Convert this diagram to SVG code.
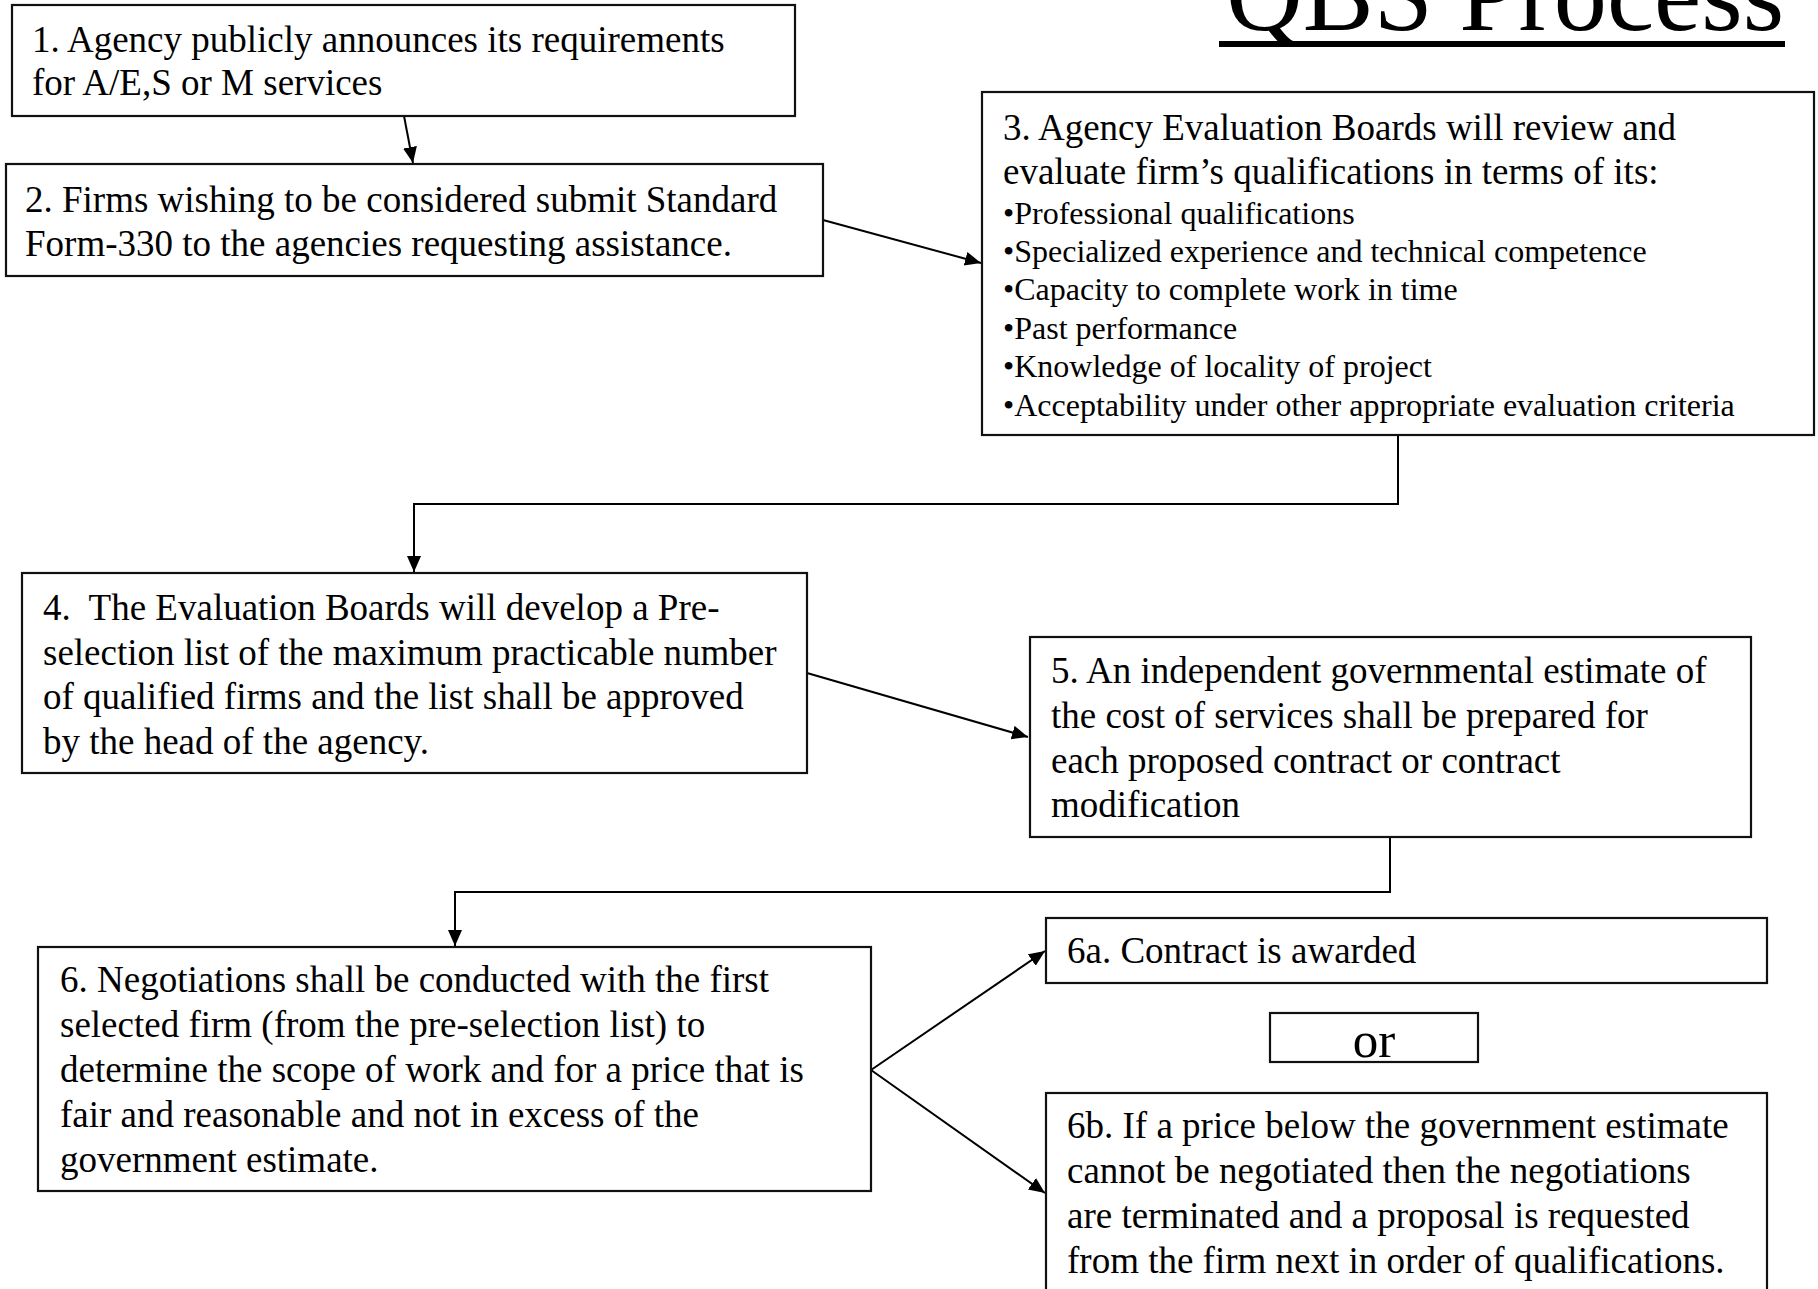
<svg xmlns="http://www.w3.org/2000/svg" width="1818" height="1289" viewBox="0 0 1818 1289">
<defs>
<marker id="ah" markerUnits="userSpaceOnUse" markerWidth="18" markerHeight="16" refX="16" refY="7" orient="auto">
<path d="M0,0 L16,7 L0,14 z" fill="#000"/>
</marker>
<style>
.box{fill:#fff;stroke:#111;stroke-width:2.2}
.t{font-family:"Liberation Serif","Times New Roman",serif;font-size:37px;fill:#000}
.b{font-family:"Liberation Serif","Times New Roman",serif;font-size:32px;fill:#000}
.c{fill:none;stroke:#000;stroke-width:2}
</style>
</defs>
<rect width="1818" height="1289" fill="#fff"/>
<g id="title">
<text x="1226" y="30" style="font-family:'Liberation Serif','Times New Roman',serif;font-size:106px" textLength="558" lengthAdjust="spacingAndGlyphs">QBS Process</text>
<rect x="1219" y="41" width="566" height="6" fill="#000"/>
</g>
<g id="connectors">
<line class="c" x1="404" y1="116" x2="413" y2="163" marker-end="url(#ah)"/>
<line class="c" x1="823" y1="220" x2="981" y2="263" marker-end="url(#ah)"/>
<polyline class="c" points="1398,435 1398,504 414,504 414,572" marker-end="url(#ah)"/>
<line class="c" x1="807" y1="673" x2="1028" y2="737" marker-end="url(#ah)"/>
<polyline class="c" points="1390,837 1390,892 455,892 455,946" marker-end="url(#ah)"/>
<line class="c" x1="871" y1="1070" x2="1045" y2="951" marker-end="url(#ah)"/>
<line class="c" x1="871" y1="1070" x2="1045" y2="1193" marker-end="url(#ah)"/>
</g>
<g id="node1">
<rect class="box" x="12" y="5" width="783" height="111"/>
<text class="t" x="32" y="52">1. Agency publicly announces its requirements</text>
<text class="t" x="32" y="95">for A/E,S or M services</text>
</g>
<g id="node2">
<rect class="box" x="6" y="164" width="817" height="112"/>
<text class="t" x="25" y="212">2. Firms wishing to be considered submit Standard</text>
<text class="t" x="25" y="256">Form-330 to the agencies requesting assistance.</text>
</g>
<g id="node3">
<rect class="box" x="982" y="92" width="832" height="343"/>
<text class="t" x="1003" y="140">3. Agency Evaluation Boards will review and</text>
<text class="t" x="1003" y="184">evaluate firm’s qualifications in terms of its:</text>
<text class="b" x="1003" y="224">•Professional qualifications</text>
<text class="b" x="1003" y="262">•Specialized experience and technical competence</text>
<text class="b" x="1003" y="300">•Capacity to complete work in time</text>
<text class="b" x="1003" y="339">•Past performance</text>
<text class="b" x="1003" y="377">•Knowledge of locality of project</text>
<text class="b" x="1003" y="416">•Acceptability under other appropriate evaluation criteria</text>
</g>
<g id="node4">
<rect class="box" x="22" y="573" width="785" height="200"/>
<text class="t" x="43" y="620">4.&#160; The Evaluation Boards will develop a Pre-</text>
<text class="t" x="43" y="665">selection list of the maximum practicable number</text>
<text class="t" x="43" y="709">of qualified firms and the list shall be approved</text>
<text class="t" x="43" y="754">by the head of the agency.</text>
</g>
<g id="node5">
<rect class="box" x="1030" y="637" width="721" height="200"/>
<text class="t" x="1051" y="683">5. An independent governmental estimate of</text>
<text class="t" x="1051" y="728">the cost of services shall be prepared for</text>
<text class="t" x="1051" y="773">each proposed contract or contract</text>
<text class="t" x="1051" y="817">modification</text>
</g>
<g id="node6">
<rect class="box" x="38" y="947" width="833" height="244"/>
<text class="t" x="60" y="992">6. Negotiations shall be conducted with the first</text>
<text class="t" x="60" y="1037">selected firm (from the pre-selection list) to</text>
<text class="t" x="60" y="1082">determine the scope of work and for a price that is</text>
<text class="t" x="60" y="1127">fair and reasonable and not in excess of the</text>
<text class="t" x="60" y="1172">government estimate.</text>
</g>
<g id="node6a">
<rect class="box" x="1046" y="918" width="721" height="65"/>
<text class="t" x="1067" y="963">6a. Contract is awarded</text>
</g>
<g id="or">
<rect class="box" x="1270" y="1013" width="208" height="49"/>
<text x="1374" y="1057" text-anchor="middle" style="font-family:'Liberation Serif','Times New Roman',serif;font-size:51px">or</text>
</g>
<g id="node6b">
<rect class="box" x="1046" y="1093" width="721" height="210"/>
<text class="t" x="1067" y="1138">6b. If a price below the government estimate</text>
<text class="t" x="1067" y="1183">cannot be negotiated then the negotiations</text>
<text class="t" x="1067" y="1228">are terminated and a proposal is requested</text>
<text class="t" x="1067" y="1273">from the firm next in order of qualifications.</text>
</g>
</svg>
